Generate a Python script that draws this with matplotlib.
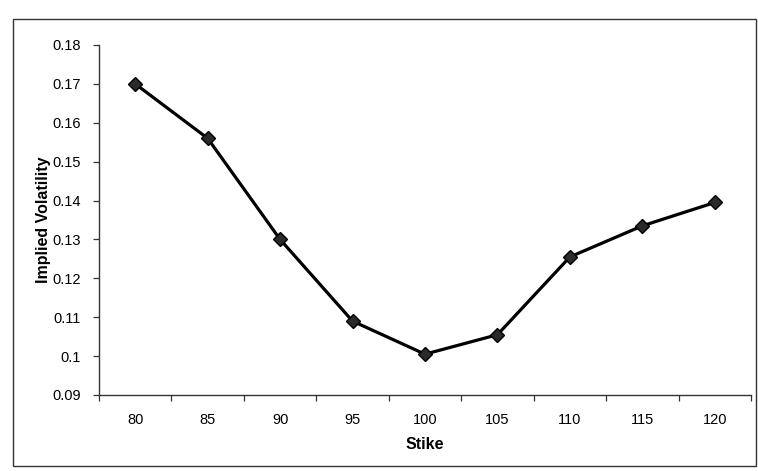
import matplotlib
matplotlib.use("Agg")
import matplotlib.pyplot as plt
from matplotlib.patches import Rectangle
import numpy as np

strikes = ["80", "85", "90", "95", "100", "105", "110", "115", "120"]
implied_vol = [0.170, 0.156, 0.130, 0.109, 0.1005, 0.1055, 0.1255, 0.1335, 0.1395]
y_ticks = [0.09, 0.10, 0.11, 0.12, 0.13, 0.14, 0.15, 0.16, 0.17, 0.18]
y_tick_labels = ["0.09", "0.1", "0.11", "0.12", "0.13", "0.14", "0.15", "0.16", "0.17", "0.18"]

plt.rcParams["font.family"] = ["Liberation Sans", "DejaVu Sans"]

fig = plt.figure(figsize=(7.58, 4.71), dpi=100)
fig.patch.set_facecolor("white")

# chart-area border
fig.patches.append(Rectangle((13 / 758, 1 - 466 / 471), (756 - 13) / 758, (466 - 19) / 471,
                             transform=fig.transFigure, fill=False,
                             edgecolor="#333333", linewidth=1.0))

ax = fig.add_axes([99 / 758, 1 - 395 / 471, (751 - 99) / 758, (395 - 45) / 471])
x = np.arange(len(strikes))
ax.plot(x, implied_vol, color="black", linewidth=2.3, marker="D", markersize=7,
        markerfacecolor="#2a2a2a", markeredgecolor="black", markeredgewidth=1.0)

ax.set_xlim(-0.5, len(strikes) - 0.5)
ax.set_ylim(0.09, 0.18)

# category axis: ticks on boundaries, labels centred on categories
ax.set_xticks(np.arange(-0.5, len(strikes), 1.0))
ax.set_xticklabels([])
ax.set_xticks(x, minor=True)
ax.set_xticklabels(strikes, minor=True)
ax.tick_params(axis="x", which="major", direction="out", length=4, width=0.9, color="#333333")
ax.tick_params(axis="x", which="minor", length=0, pad=13, labelsize=10.5)

ax.set_yticks(y_ticks)
ax.set_yticklabels(y_tick_labels)
ax.tick_params(axis="y", direction="out", length=4, width=0.9, color="#333333", pad=9, labelsize=10.5)

for side in ("top", "right"):
    ax.spines[side].set_visible(False)
for side in ("left", "bottom"):
    ax.spines[side].set_linewidth(1.0)
    ax.spines[side].set_color("#333333")

ax.set_xlabel("Stike", fontsize=11.5, fontweight="bold", labelpad=7)
ax.set_ylabel("Implied Volatility", fontsize=11.5, fontweight="bold", labelpad=1)

fig.savefig("out.png", dpi=100, facecolor="white")
